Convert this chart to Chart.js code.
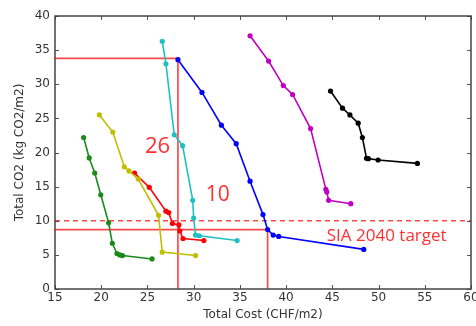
<!DOCTYPE html>
<html>
<head>
<meta charset="utf-8">
<script src="https://cdn.jsdelivr.net/npm/chart.js@4/dist/chart.umd.min.js"></script>
<style>
  body { margin: 0; background: #fff; }
  #wrap { width: 476px; height: 326px; }
</style>
</head>
<body>
<div id="wrap"><canvas id="myChart"></canvas></div>
<script>
// axis ticks
const costTicks = [15, 20, 25, 30, 35, 40, 45, 50, 55, 60];
const co2Ticks = [0, 5, 10, 15, 20, 25, 30, 35, 40];

// series (cost CHF/m2, CO2 kg/m2)
const greenCost = [18.1, 18.7, 19.3, 19.95, 20.8, 21.2, 21.7, 22.0, 22.3, 25.5];
const greenCO2 = [22.2, 19.2, 17.0, 13.8, 9.7, 6.7, 5.2, 5.0, 4.9, 4.4];
const yellowCost = [19.8, 21.25, 22.5, 23.0, 24.0, 26.2, 26.6, 30.2];
const yellowCO2 = [25.5, 23.0, 17.9, 17.3, 16.1, 10.8, 5.4, 4.9];
const redCost = [23.6, 25.2, 27.0, 27.3, 27.7, 28.4, 28.5, 28.85, 31.1];
const redCO2 = [17.0, 14.9, 11.4, 11.2, 9.6, 9.4, 8.5, 7.4, 7.1];
const cyanCost = [26.6, 27.0, 27.9, 28.8, 29.9, 30.0, 30.2, 30.6, 34.7];
const cyanCO2 = [36.3, 33.0, 22.6, 21.0, 13.0, 10.4, 7.9, 7.8, 7.1];
const blueCost = [28.3, 30.9, 33.0, 34.6, 36.1, 37.5, 38.0, 38.6, 39.2, 48.4];
const blueCO2 = [33.6, 28.8, 24.0, 21.3, 15.8, 10.9, 8.7, 7.9, 7.7, 5.8];
const magentaCost = [36.1, 38.1, 39.7, 40.7, 42.65, 44.3, 44.4, 44.6, 47.0];
const magentaCO2 = [37.1, 33.4, 29.8, 28.5, 23.5, 14.6, 14.2, 13.0, 12.5];
const blackCost = [44.8, 46.1, 46.9, 47.8, 48.25, 48.7, 48.9, 49.95, 54.2];
const blackCO2 = [29.0, 26.5, 25.5, 24.3, 22.2, 19.15, 19.1, 18.9, 18.4];

// reference lines
const targetCO2 = 10;
const guideA = { cost: 28.3, co2: 33.8 };
const guideB = { cost: 38.0, co2: 8.7 };

function pts(xs, ys) {
  return xs.map((x, i) => ({ x: x, y: ys[i] }));
}

function series(xs, ys, color) {
  return {
    data: pts(xs, ys),
    showLine: true,
    borderColor: color,
    backgroundColor: color,
    borderWidth: 1.6,
    pointRadius: 2.6,
    pointBorderWidth: 0,
    order: 1
  };
}

function refLine(points, dash) {
  return {
    data: points,
    showLine: true,
    borderColor: 'rgba(255,40,40,0.85)',
    borderWidth: 1.7,
    borderDash: dash || [],
    pointRadius: 0,
    order: 2
  };
}

// frame, inner ticks and red annotations
const extras = {
  id: 'extras',
  afterDraw(chart) {
    const ctx = chart.ctx;
    const a = chart.chartArea;
    const xs = chart.scales.x, ys = chart.scales.y;
    ctx.save();
    ctx.strokeStyle = '#555';
    ctx.lineWidth = 1;
    costTicks.forEach(v => {
      const px = Math.round(xs.getPixelForValue(v)) + 0.5;
      ctx.beginPath();
      ctx.moveTo(px, a.bottom); ctx.lineTo(px, a.bottom - 4);
      ctx.moveTo(px, a.top); ctx.lineTo(px, a.top + 4);
      ctx.stroke();
    });
    co2Ticks.forEach(v => {
      const py = Math.round(ys.getPixelForValue(v)) + 0.5;
      ctx.beginPath();
      ctx.moveTo(a.left, py); ctx.lineTo(a.left + 4, py);
      ctx.moveTo(a.right, py); ctx.lineTo(a.right - 4, py);
      ctx.stroke();
    });
    ctx.lineWidth = 1.5;
    ctx.strokeStyle = '#444';
    ctx.strokeRect(a.left, a.top, a.right - a.left, a.bottom - a.top);

    ctx.fillStyle = '#ff3030';
    ctx.textBaseline = 'middle';
    ctx.textAlign = 'center';
    ctx.font = '22px "Open Sans", sans-serif';
    ctx.fillText('26', xs.getPixelForValue(26.1), ys.getPixelForValue(20.8));
    ctx.font = '21px "Open Sans", sans-serif';
    ctx.fillText('10', xs.getPixelForValue(32.6), ys.getPixelForValue(13.8));
    ctx.textAlign = 'left';
    ctx.font = '17px "Open Sans", sans-serif';
    ctx.fillText('SIA 2040 target', xs.getPixelForValue(44.4), ys.getPixelForValue(7.7));
    ctx.restore();
  }
};

const tickFont = { family: 'DejaVu Sans', size: 12 };

new Chart(document.getElementById('myChart'), {
  type: 'scatter',
  data: {
    datasets: [
      series(greenCost, greenCO2, '#1a8a1a'),
      series(yellowCost, yellowCO2, '#bfbf00'),
      series(redCost, redCO2, '#ff0000'),
      series(cyanCost, cyanCO2, '#20c0c0'),
      series(blueCost, blueCO2, '#0000ff'),
      series(magentaCost, magentaCO2, '#c000c0'),
      series(blackCost, blackCO2, '#000000'),
      refLine([{ x: 15, y: targetCO2 }, { x: 60, y: targetCO2 }], [5, 4]),
      refLine([{ x: 15, y: guideA.co2 }, { x: guideA.cost, y: guideA.co2 }, { x: guideA.cost, y: 0 }]),
      refLine([{ x: 15, y: guideB.co2 }, { x: guideB.cost, y: guideB.co2 }, { x: guideB.cost, y: 0 }])
    ]
  },
  options: {
    responsive: true,
    maintainAspectRatio: false,
    animation: false,
    layout: { padding: { top: 16, right: 5, left: 0, bottom: 0 } },
    plugins: { legend: { display: false }, tooltip: { enabled: false } },
    scales: {
      x: {
        type: 'linear',
        min: 15, max: 60,
        afterBuildTicks: s => { s.ticks = costTicks.map(v => ({ value: v })); },
        afterFit: s => { s.height = 37; s.paddingRight = 0; },
        grid: { display: false, tickLength: 0 },
        border: { display: false },
        ticks: { color: '#333', font: tickFont, padding: 2, maxRotation: 0 },
        title: { display: true, text: 'Total Cost (CHF/m2)', color: '#333', font: tickFont, padding: { top: 0, bottom: 4 } }
      },
      y: {
        type: 'linear',
        min: 0, max: 40,
        afterBuildTicks: s => { s.ticks = co2Ticks.map(v => ({ value: v })); },
        afterFit: s => { s.width = 55; },
        grid: { display: false, tickLength: 0 },
        border: { display: false },
        ticks: { color: '#333', font: tickFont, padding: 5 },
        title: { display: true, text: 'Total CO2 (kg CO2/m2)', color: '#333', font: tickFont, padding: { top: 13, bottom: 0 } }
      }
    }
  },
  plugins: [extras]
});
</script>
</body>
</html>
